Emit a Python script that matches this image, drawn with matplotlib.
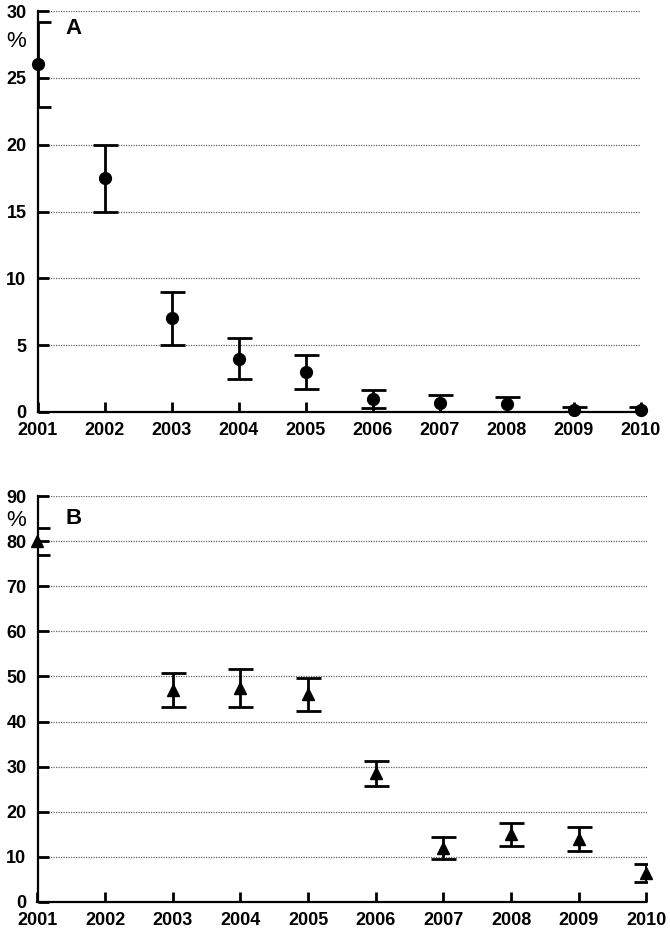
import matplotlib
matplotlib.use("Agg")
import matplotlib.pyplot as plt

plt.rcParams['font.family'] = ['Liberation Sans', 'DejaVu Sans']
plt.rcParams['font.weight'] = 'bold'

years = [2001, 2002, 2003, 2004, 2005, 2006, 2007, 2008, 2009, 2010]
year_labels = [str(y) for y in years]

a_years = [2001, 2002, 2003, 2004, 2005, 2006, 2007, 2008, 2009, 2010]
a_values = [26, 17.5, 7, 4, 3, 1, 0.65, 0.57, 0.15, 0.15]
a_err = [3.15, 2.5, 2, 1.5, 1.25, 0.67, 0.63, 0.55, 0.25, 0.25]
a_yticks = [0, 5, 10, 15, 20, 25, 30]

b_years = [2001, 2003, 2004, 2005, 2006, 2007, 2008, 2009, 2010]
b_values = [80, 47, 47.5, 46, 28.5, 12, 15, 14, 6.5]
b_err = [3, 3.7, 4.2, 3.6, 2.8, 2.4, 2.6, 2.7, 2.0]
b_yticks = [0, 10, 20, 30, 40, 50, 60, 70, 80, 90]

W, H = 670, 933
fig = plt.figure(figsize=(W / 100, H / 100), dpi=100)


def make_axes(left_px, right_px, top_px, bottom_px):
    return fig.add_axes([left_px / W, 1 - bottom_px / H,
                         (right_px - left_px) / W, (bottom_px - top_px) / H])


def style(ax, xs, vals, errs, yticks, marker, msize, xpad):
    ax.errorbar(xs, vals, yerr=errs, fmt='none', ecolor='black',
                elinewidth=2.0, capsize=9, capthick=2.0, zorder=3)
    ax.plot(xs, vals, linestyle='none', marker=marker, markersize=msize,
            color='black', clip_on=False, zorder=4)
    ax.set_xlim(years[0], years[-1])
    ax.set_ylim(yticks[0], yticks[-1])
    ax.set_xticks(years)
    ax.set_xticklabels(year_labels, fontsize=13, fontweight='bold')
    ax.set_yticks(yticks)
    ax.set_yticklabels([str(t) for t in yticks], fontsize=13, fontweight='bold')
    for s in ['top', 'right']:
        ax.spines[s].set_visible(False)
    for s in ['left', 'bottom']:
        ax.spines[s].set_linewidth(1.6)
        ax.spines[s].set_zorder(5)
    ax.tick_params(axis='y', direction='in', length=8, width=2.0, pad=8)
    ax.tick_params(axis='x', direction='in', length=7.5, width=2.0, pad=xpad)
    ax.yaxis.grid(True, linestyle=(0, (1, 1)), color='#666666', linewidth=0.9)
    ax.set_axisbelow(True)


def label(x_px, y_px, s, **kw):
    fig.text(x_px / W, 1 - y_px / H, s, ha='center', va='center', **kw)


axA = make_axes(37.5, 640.5, 11, 412)
style(axA, a_years, a_values, a_err, a_yticks, 'o', 8.5, 7.5)
label(16, 41.5, '%', fontsize=16, fontweight='normal')
label(74, 29, 'A', fontsize=16, fontweight='bold')

axB = make_axes(37.5, 646.5, 496, 902)
style(axB, b_years, b_values, b_err, b_yticks, '^', 8, 7)
label(16, 520.5, '%', fontsize=16, fontweight='normal')
label(74, 519, 'B', fontsize=16, fontweight='bold')

fig.savefig('out.png', dpi=100)
